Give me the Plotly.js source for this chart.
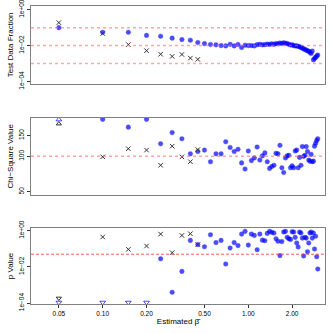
<!DOCTYPE html>
<html>
<head>
<meta charset="utf-8">
<script src="https://cdn.plot.ly/plotly-3.0.1.min.js"></script>
<style>
  html, body { margin: 0; padding: 0; background: #fff; }
  #plot { width: 333px; height: 333px; }
</style>
</head>
<body>
<div id="plot"></div>
<script>
// estimated beta, 0.05 .. 3.00 by 0.05
var beta = [
  0.05, 0.10, 0.15, 0.20, 0.25, 0.30, 0.35, 0.40, 0.45, 0.50,
  0.55, 0.60, 0.65, 0.70, 0.75, 0.80, 0.85, 0.90, 0.95, 1.00,
  1.05, 1.10, 1.15, 1.20, 1.25, 1.30, 1.35, 1.40, 1.45, 1.50,
  1.55, 1.60, 1.65, 1.70, 1.75, 1.80, 1.85, 1.90, 1.95, 2.00,
  2.05, 2.10, 2.15, 2.20, 2.25, 2.30, 2.35, 2.40, 2.45, 2.50,
  2.55, 2.60, 2.65, 2.70, 2.75, 2.80, 2.85, 2.90, 2.95, 3.00
];
var betaX = [0.05, 0.10, 0.15, 0.20, 0.25, 0.30, 0.35, 0.40, 0.45];

// test data fraction
var fracBlue = [
  0.100, 0.055, 0.055, 0.037, 0.033, 0.026, 0.0215, 0.020, 0.0148, 0.0129,
  0.0115, 0.0110, 0.0100, 0.0096, 0.0117, 0.0096, 0.0115, 0.0078, 0.0105, 0.0100,
  0.0100, 0.0096, 0.0113, 0.0117, 0.0110, 0.0113, 0.0120, 0.0117, 0.0125, 0.0117,
  0.0130, 0.0126, 0.0140, 0.0130, 0.0145, 0.0135, 0.0130, 0.0118, 0.0108, 0.0110,
  0.0100, 0.0095, 0.0098, 0.0090, 0.0085, 0.0080, 0.0072, 0.0066, 0.0060, 0.0056,
  0.0052, 0.0048, 0.0042, 0.0036, 0.0050, 0.0016, 0.0019, 0.0022, 0.0026, 0.0030
];
var fracX = [0.19, 0.047, 0.0114, 0.0052, 0.0033, 0.0025, 0.0032, 0.0020, 0.0017];

// chi-square value
var chiBlue = [
  260, 206, 177, 206, 128, 159, 141, 105, 110, 113,
  90, 105, 105, 133, 119, 110, 115, 88, 78, 111,
  92, 97, 120, 93, 101, 107, 90, 79, 82, 84,
  106, 105, 124, 80, 73, 97, 101, 102, 80, 83,
  80, 111, 113, 80, 98, 84, 121, 100, 102, 121,
  110, 93, 91, 104, 90, 91, 122, 129, 136, 141
];
var chiX = [240, 99, 116, 113, 84, 122, 99, 90, 114];

// p value
var pBlue = [
  1e-6, 1e-6, 1e-6, 1e-6, 0.028, 0.00039, 0.0056, 0.29, 0.17, 0.13,
  0.60, 0.22, 0.29, 0.0144, 0.11, 0.22, 0.15, 0.65, 0.92, 0.16,
  0.65, 0.55, 0.089, 0.65, 0.30, 0.28, 0.71, 0.92, 0.81, 0.74,
  0.36, 0.26, 0.042, 0.25, 0.84, 0.92, 0.43, 0.36, 0.33, 0.88,
  0.84, 0.43, 0.21, 0.125, 0.84, 0.74, 0.39, 0.040, 0.43, 0.39,
  0.069, 0.21, 0.74, 0.84, 0.39, 0.74, 0.097, 0.49, 0.036, 0.0076
];
var pX = [1e-5, 0.45, 0.093, 0.142, 0.65, 0.061, 0.55, 0.68, 0.17];

// reference levels
var fracRef = [0.1, 0.01, 0.001];
var chiRef = [100];
var pRef = [0.05];

var xRange = [-1.4924, 0.5268];
var fracRange = [-4.128, 0.205];
var chiRange = [1.675, 2.325];
var pRange = [-4.055, 0.149];

// values beyond the axis are drawn at the edge as triangles
function clip(vals, rng, inset, up, down) {
  var span = rng[1] - rng[0];
  var y = [], sym = [];
  vals.forEach(function(v) {
    var lv = Math.log10(v);
    if (lv > rng[1]) { y.push(Math.pow(10, rng[1] - inset * span)); sym.push(up); }
    else if (lv < rng[0]) { y.push(Math.pow(10, rng[0] + inset * span)); sym.push(down); }
    else { y.push(v); sym.push(null); }
  });
  return { y: y, sym: sym };
}

function blueTrace(vals, rng, ya) {
  var c = clip(vals, rng, 0.02, 'triangle-up-open', 'triangle-down-open');
  var sym = c.sym.map(function(s) { return s || 'circle'; });
  var lw = c.sym.map(function(s) { return s ? 1 : 0.4; });
  var sz = c.sym.map(function(s) { return s ? 5 : 4.6; });
  return {
    x: beta, y: c.y, xaxis: ya.replace('y', 'x'), yaxis: ya,
    type: 'scatter', mode: 'markers', hoverinfo: 'skip',
    marker: { color: '#0000ff', size: sz, symbol: sym, line: { color: '#0000ff', width: lw } }
  };
}

function crossTrace(vals, rng, ya) {
  var c = clip(vals, rng, 0.075, 'triangle-up-open', 'triangle-down-open');
  var sym = c.sym.map(function(s) { return s || 'x-thin-open'; });
  return {
    x: betaX, y: c.y, xaxis: ya.replace('y', 'x'), yaxis: ya,
    type: 'scatter', mode: 'markers', hoverinfo: 'skip',
    marker: { color: '#333', size: 4.5, symbol: sym, line: { color: '#333', width: 1 } }
  };
}

var data = [
  blueTrace(fracBlue, fracRange, 'y'), crossTrace(fracX, fracRange, 'y'),
  blueTrace(chiBlue, chiRange, 'y2'), crossTrace(chiX, chiRange, 'y2'),
  blueTrace(pBlue, pRange, 'y3'), crossTrace(pX, pRange, 'y3')
];

var font = { family: 'Liberation Sans, Arial, sans-serif', size: 6.5, color: '#000' };
var titleFont = { family: 'Liberation Sans, Arial, sans-serif', size: 8, color: '#000' };

function xaxis(anchor, bottom) {
  return {
    type: 'log', range: xRange, anchor: anchor,
    showgrid: false, zeroline: false, showline: true, mirror: true,
    linecolor: '#808080', linewidth: 1,
    ticks: bottom ? 'outside' : '', ticklen: 3, tickcolor: '#333',
    showticklabels: bottom, ticklabeloverflow: 'allow',
    tickvals: [0.05, 0.1, 0.2, 0.5, 1, 2],
    ticktext: ['0.05', '0.10', '0.20', '0.50', '1.00', '2.00'],
    tickfont: font,
    title: bottom ? { text: 'Estimated \u03b2\u0302', font: titleFont, standoff: 2 } : { text: '' }
  };
}

function yaxis(anchor, dom, rng, vals, text, title) {
  return {
    type: 'log', range: rng, domain: dom, anchor: anchor,
    showgrid: false, zeroline: false, showline: true, mirror: true,
    linecolor: '#808080', linewidth: 1,
    ticks: 'outside', ticklen: 3, tickcolor: '#333',
    ticklabeloverflow: 'allow',
    tickvals: vals, ticktext: text, tickangle: -90, tickfont: font,
    title: { text: title, font: titleFont, standoff: 3 }
  };
}

function refLines(levels, ya, color, dash, width) {
  return levels.map(function(v) {
    return {
      type: 'line', xref: ya.replace('y', 'x') + ' domain', yref: ya,
      x0: 0, x1: 1, y0: v, y1: v,
      line: { color: color, width: width, dash: dash }
    };
  });
}

var layout = {
  width: 333, height: 333,
  margin: { l: 31, r: 8, t: 6, b: 29 },
  paper_bgcolor: '#fff', plot_bgcolor: '#fff',
  showlegend: false,
  font: font,
  xaxis: xaxis('y', false),
  xaxis2: xaxis('y2', false),
  xaxis3: xaxis('y3', true),
  yaxis: yaxis('x', [0.739, 1], fracRange, [1, 0.01, 0.0001], ['1e+00', '1e\u221202', '1e\u221204'], 'Test Data Fraction'),
  yaxis2: yaxis('x2', [0.367, 0.624], chiRange, [50, 100, 150], ['50', '100', '150'], 'Chi\u2212Square Value'),
  yaxis3: yaxis('x3', [0, 0.255], pRange, [1, 0.01, 0.0001], ['1e+00', '1e\u221202', '1e\u221204'], 'p Value'),
  shapes: []
    .concat(refLines(fracRef, 'y', 'rgba(255,110,110,0.6)', 'dot', 1.5))
    .concat(refLines(chiRef, 'y2', 'rgba(255,110,110,0.6)', 'dot', 1.5))
    .concat(refLines(pRef, 'y3', '#ff3030', '3px,2px', 0.8))
};

Plotly.newPlot('plot', data, layout, { staticPlot: true });
</script>
</body>
</html>
